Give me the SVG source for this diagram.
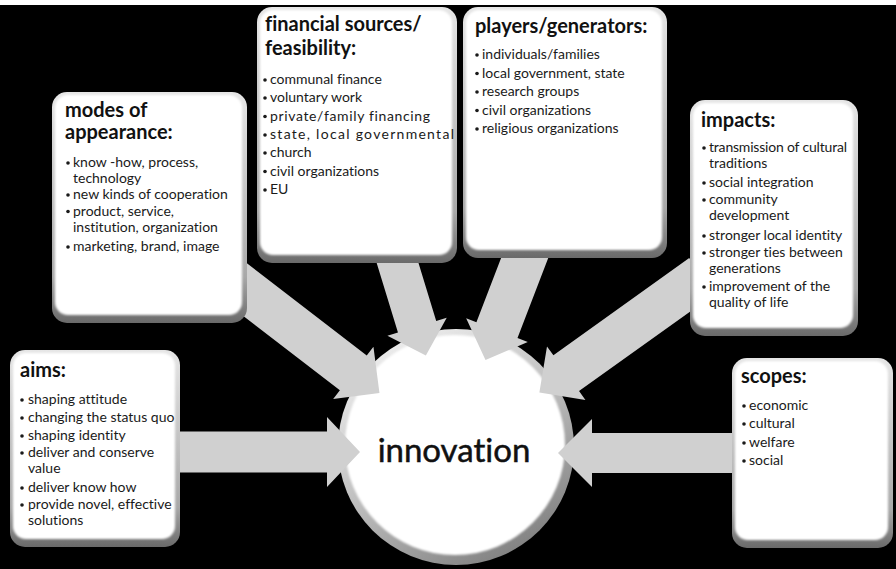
<svg xmlns="http://www.w3.org/2000/svg" width="896" height="569" viewBox="0 0 896 569">
  <style>
    text { font-variant-ligatures: none; }
    .head { font-family: Lato, "Open Sans", "Liberation Sans", sans-serif; font-weight: bold; font-size: 20px; fill: #111; }
    .body { font-family: Lato, "Open Sans", "Liberation Sans", sans-serif; font-size: 14px; fill: #1a1a1a; }
    .bullet { fill: #1a1a1a; }
    .frame { fill: url(#bevel); }
    .face { fill: #ffffff; filter: url(#soft); }
    .arrow { fill: #d0d0d0; }
    .core { font-family: Lato, "Open Sans", "Liberation Sans", sans-serif; font-size: 33px; fill: #111; stroke: #111; stroke-width: 0.5; }
  </style>
  <defs>
    <linearGradient id="bevel" x1="0" y1="0" x2="0" y2="1">
      <stop offset="0" stop-color="#e6e6e6"/>
      <stop offset="0.8" stop-color="#a8a8a8"/>
      <stop offset="1" stop-color="#6a6a6a"/>
    </linearGradient>
    <linearGradient id="rim" x1="0.2" y1="0" x2="0.8" y2="1">
      <stop offset="0" stop-color="#f2f2f2"/>
      <stop offset="0.5" stop-color="#bdbdbd"/>
      <stop offset="1" stop-color="#7a7a7a"/>
    </linearGradient>
    <filter id="soft" x="-5%" y="-5%" width="110%" height="110%">
      <feGaussianBlur stdDeviation="1.3"/>
    </filter>
  </defs>

  <!-- backdrop -->
  <rect x="0" y="0" width="896" height="569" fill="#000"/>
  <rect x="0" y="0" width="896" height="5" fill="#fff"/>

  <!-- central node -->
  <g id="innovation">
    <circle cx="456" cy="447" r="118" fill="url(#rim)"/>
    <circle cx="455" cy="445" r="110" fill="#fff" filter="url(#soft)"/>
    <text class="core" x="454" y="462" text-anchor="middle">innovation</text>
  </g>

  <!-- block arrows pointing into the centre -->
  <g id="connectors">
    <path class="arrow" transform="translate(175,452)" d="M0,-20.5 L152,-20.5 L152,-35 L185,0 L152,35 L152,20.5 L0,20.5 Z"/>
    <path class="arrow" transform="translate(738,453) rotate(180)" d="M0,-20 L146,-20 L146,-34 L180,0 L146,34 L146,20 L0,20 Z"/>
    <path class="arrow" transform="translate(221,271) rotate(37.6)" d="M0,-22 L167,-22 L167,-33 L200,0 L167,33 L167,22 L0,22 Z"/>
    <path class="arrow" transform="translate(382,212) rotate(73)" d="M0,-20 L120,-20 L120,-31 L150,0 L120,31 L120,20 L0,20 Z"/>
    <path class="arrow" transform="translate(550,192) rotate(111)" d="M0,-22 L148,-22 L148,-33 L180,0 L148,33 L148,22 L0,22 Z"/>
    <path class="arrow" transform="translate(702,276) rotate(144.4)" d="M0,-22 L167,-22 L167,-33 L200,0 L167,33 L167,22 L0,22 Z"/>
  </g>

  <!-- aims -->
  <g id="aims">
    <rect class="frame" x="10" y="350" width="170" height="197" rx="15"/>
    <rect class="face" x="13" y="353" width="162" height="186" rx="13"/>
    <text class="head" x="20" y="377">aims:</text>
    <g class="bullet">
      <circle cx="22" cy="400" r="1.8"/><circle cx="22" cy="418" r="1.8"/><circle cx="22" cy="436" r="1.8"/>
      <circle cx="22" cy="453" r="1.8"/><circle cx="22" cy="488" r="1.8"/><circle cx="22" cy="505" r="1.8"/>
    </g>
    <text class="body" x="28" y="404">shaping attitude</text>
    <text class="body" x="28" y="422">changing the status quo</text>
    <text class="body" x="28" y="440">shaping identity</text>
    <text class="body" x="28" y="457">deliver  and conserve</text>
    <text class="body" x="28" y="473">value</text>
    <text class="body" x="28" y="492">deliver know how</text>
    <text class="body" x="28" y="509">provide novel, effective</text>
    <text class="body" x="28" y="525">solutions</text>
  </g>

  <!-- modes of appearance -->
  <g id="modes">
    <rect class="frame" x="52" y="92" width="195" height="231" rx="15"/>
    <rect class="face" x="55" y="95" width="187" height="220" rx="13"/>
    <text class="head" x="65" y="117">modes of</text>
    <text class="head" x="65" y="139">appearance:</text>
    <g class="bullet">
      <circle cx="68" cy="163" r="1.8"/><circle cx="68" cy="195" r="1.8"/>
      <circle cx="68" cy="211.5" r="1.8"/><circle cx="68" cy="247" r="1.8"/>
    </g>
    <text class="body" x="73" y="167">know -how, process,</text>
    <text class="body" x="73" y="183">technology</text>
    <text class="body" x="73" y="199">new kinds of cooperation</text>
    <text class="body" x="73" y="215.5">product, service,</text>
    <text class="body" x="73" y="231.5">institution, organization</text>
    <text class="body" x="73" y="251">marketing, brand, image</text>
  </g>

  <!-- financial sources / feasibility -->
  <g id="financial">
    <rect class="frame" x="257" y="7" width="200" height="256" rx="15"/>
    <rect class="face" x="260" y="10" width="192" height="245" rx="13"/>
    <text class="head" x="265" y="31">financial sources/</text>
    <text class="head" x="265" y="55">feasibility:</text>
    <g class="bullet">
      <circle cx="265" cy="80" r="1.8"/><circle cx="265" cy="98" r="1.8"/><circle cx="265" cy="116.5" r="1.8"/>
      <circle cx="265" cy="135" r="1.8"/><circle cx="265" cy="153" r="1.8"/><circle cx="265" cy="171.5" r="1.8"/>
      <circle cx="265" cy="190" r="1.8"/>
    </g>
    <text class="body" x="270" y="84">communal finance</text>
    <text class="body" x="270" y="102">voluntary work</text>
    <text class="body" x="270" y="120.5" textLength="160" lengthAdjust="spacing">private/family financing</text>
    <text class="body" x="270" y="139" textLength="184" lengthAdjust="spacing">state, local governmental</text>
    <text class="body" x="270" y="157">church</text>
    <text class="body" x="270" y="175.5">civil organizations</text>
    <text class="body" x="270" y="194">EU</text>
  </g>

  <!-- players / generators -->
  <g id="players">
    <rect class="frame" x="463" y="7" width="204" height="251" rx="15"/>
    <rect class="face" x="466" y="10" width="196" height="240" rx="13"/>
    <text class="head" x="475" y="33">players/generators:</text>
    <g class="bullet">
      <circle cx="477" cy="55" r="1.8"/><circle cx="477" cy="73.5" r="1.8"/><circle cx="477" cy="92" r="1.8"/>
      <circle cx="477" cy="110.5" r="1.8"/><circle cx="477" cy="129" r="1.8"/>
    </g>
    <text class="body" x="482" y="59">individuals/families</text>
    <text class="body" x="482" y="77.5">local government, state</text>
    <text class="body" x="482" y="96">research groups</text>
    <text class="body" x="482" y="114.5">civil organizations</text>
    <text class="body" x="482" y="133">religious organizations</text>
  </g>

  <!-- impacts -->
  <g id="impacts">
    <rect class="frame" x="690" y="100" width="168" height="236" rx="15"/>
    <rect class="face" x="693" y="103" width="160" height="225" rx="13"/>
    <text class="head" x="701" y="127">impacts:</text>
    <g class="bullet">
      <circle cx="704" cy="148" r="1.8"/><circle cx="704" cy="183" r="1.8"/><circle cx="704" cy="200" r="1.8"/>
      <circle cx="704" cy="236" r="1.8"/><circle cx="704" cy="253" r="1.8"/><circle cx="704" cy="287" r="1.8"/>
    </g>
    <text class="body" x="709" y="152" textLength="138" lengthAdjust="spacing">transmission of cultural</text>
    <text class="body" x="709" y="168">traditions</text>
    <text class="body" x="709" y="187">social integration</text>
    <text class="body" x="709" y="204">community</text>
    <text class="body" x="709" y="220">development</text>
    <text class="body" x="709" y="240">stronger local identity</text>
    <text class="body" x="709" y="257">stronger ties between</text>
    <text class="body" x="709" y="273">generations</text>
    <text class="body" x="709" y="291">improvement of  the</text>
    <text class="body" x="709" y="307">quality of life</text>
  </g>

  <!-- scopes -->
  <g id="scopes">
    <rect class="frame" x="732" y="358" width="161" height="190" rx="15"/>
    <rect class="face" x="735" y="361" width="153" height="179" rx="13"/>
    <text class="head" x="741" y="383">scopes:</text>
    <g class="bullet">
      <circle cx="744" cy="406" r="1.8"/><circle cx="744" cy="424" r="1.8"/>
      <circle cx="744" cy="443" r="1.8"/><circle cx="744" cy="461" r="1.8"/>
    </g>
    <text class="body" x="749" y="410">economic</text>
    <text class="body" x="749" y="428">cultural</text>
    <text class="body" x="749" y="447">welfare</text>
    <text class="body" x="749" y="465">social</text>
  </g>
</svg>
